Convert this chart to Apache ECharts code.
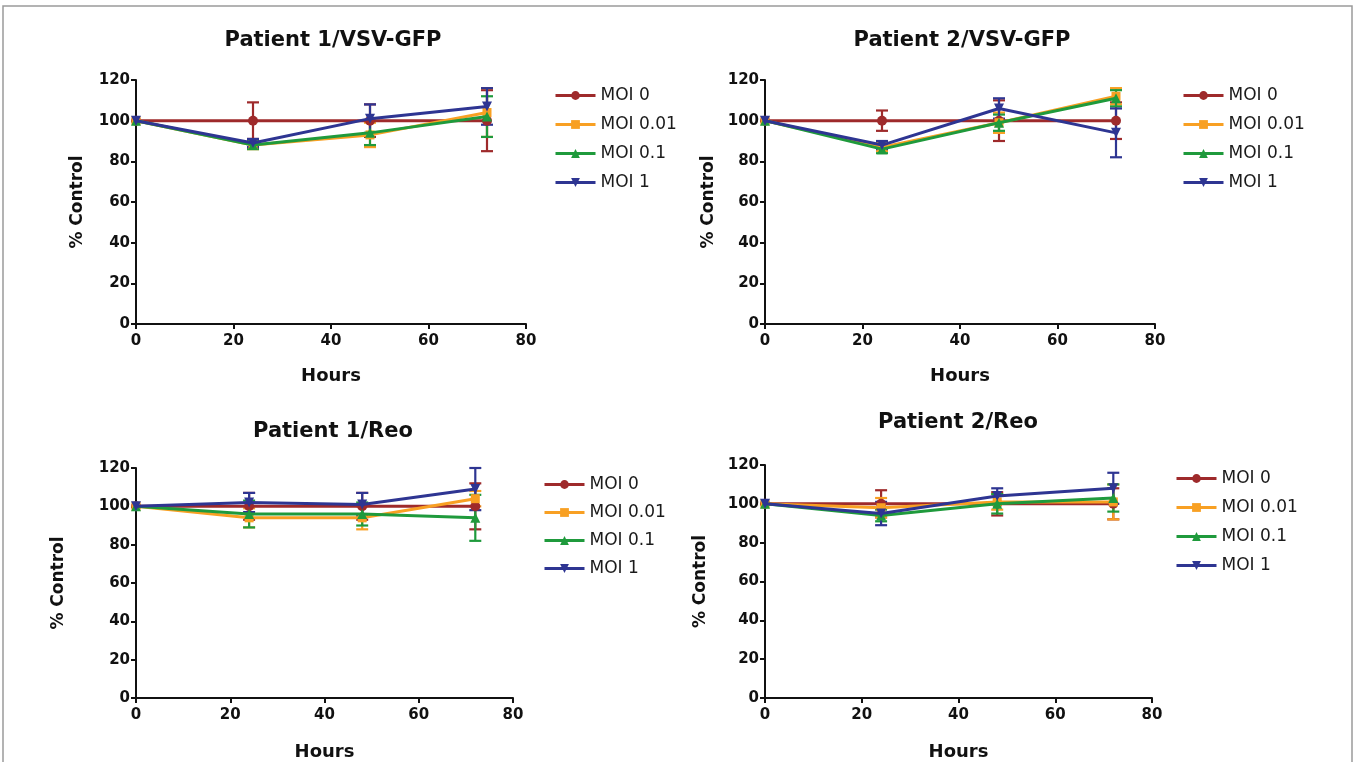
<!DOCTYPE html>
<html>
<head>
<meta charset="utf-8">
<script src="https://cdn.jsdelivr.net/npm/echarts@6/dist/echarts.min.js"></script>
<style>html,body{margin:0;padding:0;background:#fff}#c{width:1356px;height:762px}</style>
</head>
<body>
<div id="c"></div>
<script>
const hours = [0, 24, 48, 72];
const seriesNames = ['MOI 0', 'MOI 0.01', 'MOI 0.1', 'MOI 1'];
const xTicks = [0, 20, 40, 60, 80];
const yTicks = [0, 20, 40, 60, 80, 100, 120];
const panelTitles = ['Patient 1/VSV-GFP', 'Patient 2/VSV-GFP', 'Patient 1/Reo', 'Patient 2/Reo'];

// Panel 1: Patient 1/VSV-GFP (mean, error)
const p1Mean = [[100,100,100,100],[100,88,93,104],[100,88,94,102],[100,89,101,107]];
const p1Err  = [[0,9,8,15],[0,2,6,12],[0,2,6,10],[0,2,7,9]];
// Panel 2: Patient 2/VSV-GFP
const p2Mean = [[100,100,100,100],[100,87,99,112],[100,86,99,111],[100,88,106,94]];
const p2Err  = [[0,5,10,9],[0,2,5,4],[0,2,4,4],[0,2,5,12]];
// Panel 3: Patient 1/Reo
const p3Mean = [[100,100,100,100],[100,94,94,104],[100,96,96,94],[100,102,101,109]];
const p3Err  = [[0,7,7,12],[0,5,6,4],[0,7,6,12],[0,5,6,11]];
// Panel 4: Patient 2/Reo
const p4Mean = [[100,100,100,100],[100,98,101,101],[100,94,100,103],[100,95,104,108]];
const p4Err  = [[0,7,6,8],[0,5,4,9],[0,3,5,7],[0,6,4,8]];

const colors = ['#9e2a2b', '#f8a023', '#1f9a3c', '#2e3592'];
const symbols = ['circle', 'rect', 'triangle', 'triangle'];
const symRot = [0, 0, 0, 180];

const panels = [
  {mean: p1Mean, err: p1Err, grid: {left: 136, top: 80, width: 390, height: 244}, title: [333, 41], legend: [549, 82], legendGap: 12, xGap: 43, yGap: 50},
  {mean: p2Mean, err: p2Err, grid: {left: 765, top: 80, width: 390, height: 244}, title: [962, 41], legend: [1177, 82], legendGap: 12, xGap: 43, yGap: 48},
  {mean: p3Mean, err: p3Err, grid: {left: 136, top: 468, width: 377, height: 236}, title: [333, 432], legend: [538, 471], legendGap: 11, xGap: 45, yGap: 69},
  {mean: p4Mean, err: p4Err, grid: {left: 765, top: 465, width: 387, height: 239}, title: [958, 423], legend: [1170, 465], legendGap: 12, xGap: 45, yGap: 56}
];

const FONT = '"DejaVu Sans", "Liberation Sans", Arial, sans-serif';
const axisCommon = {
  axisLine: {lineStyle: {color: '#111', width: 2}},
  axisTick: {show: true, inside: false, length: 5, lineStyle: {color: '#111', width: 2}},
  splitLine: {show: false},
  axisLabel: {color: '#111', fontWeight: 'bold', fontSize: 15, fontFamily: FONT},
  nameTextStyle: {color: '#111', fontWeight: 'bold', fontSize: 18, fontFamily: FONT}
};

const grids = [], xAxes = [], yAxes = [], legends = [], series = [], graphics = [];

graphics.push({type: 'rect', shape: {x: 3, y: 6, width: 1349, height: 800}, style: {fill: 'none', stroke: '#9a9a9a', lineWidth: 1.5}, silent: true});

panels.forEach((p, pi) => {
  grids.push(Object.assign({containLabel: false}, p.grid));
  xAxes.push(Object.assign({}, axisCommon, {
    type: 'value', gridIndex: pi, min: xTicks[0], max: xTicks[xTicks.length - 1], interval: xTicks[1] - xTicks[0],
    name: 'Hours', nameLocation: 'middle', nameGap: p.xGap,
    axisLabel: Object.assign({}, axisCommon.axisLabel, {margin: 10})
  }));
  yAxes.push(Object.assign({}, axisCommon, {
    type: 'value', gridIndex: pi, min: yTicks[0], max: yTicks[yTicks.length - 1], interval: yTicks[1] - yTicks[0],
    name: '% Control', nameLocation: 'middle', nameGap: p.yGap, nameRotate: 90,
    nameTextStyle: Object.assign({}, axisCommon.nameTextStyle, {fontSize: 17}),
    axisLabel: Object.assign({}, axisCommon.axisLabel, {margin: 6})
  }));
  legends.push({
    left: p.legend[0], top: p.legend[1], orient: 'vertical', itemWidth: 40, itemHeight: 11, itemGap: p.legendGap,
    data: seriesNames, selectedMode: false,
    lineStyle: {width: 3},
    textStyle: {color: '#1a1a1a', fontSize: 17, fontFamily: FONT}
  });
  graphics.push({type: 'text', x: p.title[0], y: p.title[1], style: {text: panelTitles[pi], textAlign: 'center', textVerticalAlign: 'middle', font: 'bold 21px ' + FONT, fill: '#111'}, silent: true});

  seriesNames.forEach((nm, si) => {
    const errData = hours.map((h, k) => [h, p.mean[si][k] - p.err[si][k], p.mean[si][k] + p.err[si][k]]);
    series.push({
      type: 'custom', name: nm + ' error', xAxisIndex: pi, yAxisIndex: pi, z: 2 + si,
      data: errData.filter(d => d[2] > d[1]),
      itemStyle: {color: colors[si]},
      renderItem: function (params, api) {
        const x = api.value(0), lo = api.value(1), hi = api.value(2);
        const pLo = api.coord([x, lo]), pHi = api.coord([x, hi]);
        const w = 6;
        const st = {stroke: colors[si], lineWidth: 2.2};
        return {type: 'group', children: [
          {type: 'line', shape: {x1: pLo[0], y1: pLo[1], x2: pHi[0], y2: pHi[1]}, style: st},
          {type: 'line', shape: {x1: pLo[0] - w, y1: pLo[1], x2: pLo[0] + w, y2: pLo[1]}, style: st},
          {type: 'line', shape: {x1: pHi[0] - w, y1: pHi[1], x2: pHi[0] + w, y2: pHi[1]}, style: st}
        ]};
      }
    });
    series.push({
      type: 'line', name: nm, xAxisIndex: pi, yAxisIndex: pi, z: 10 + si,
      data: hours.map((h, k) => [h, p.mean[si][k]]),
      symbol: symbols[si], symbolRotate: symRot[si], symbolSize: si === 1 ? 9 : 10, showSymbol: true,
      lineStyle: {color: colors[si], width: 3},
      itemStyle: {color: colors[si]},
      color: colors[si],
      animation: false
    });
  });
});

const chart = echarts.init(document.getElementById('c'), null, {renderer: 'canvas'});
chart.setOption({
  animation: false,
  backgroundColor: '#fff',
  grid: grids,
  xAxis: xAxes,
  yAxis: yAxes,
  legend: legends,
  series: series,
  graphic: graphics
});
</script>
</body>
</html>
